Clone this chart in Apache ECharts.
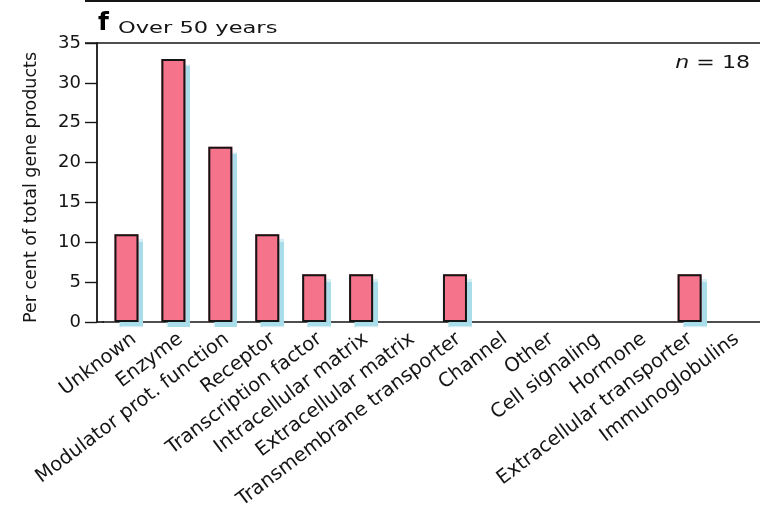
<!DOCTYPE html>
<html>
<head>
<meta charset="utf-8">
<script src="https://cdn.jsdelivr.net/npm/echarts@6/dist/echarts.min.js"></script>
<style>
  html, body { margin: 0; padding: 0; background: #ffffff; }
  #chart { width: 760px; height: 512px; }
</style>
</head>
<body>
<div id="chart"></div>
<script>
// Functional classes of gene products, share of total (%)
const categories = [
  'Unknown', 'Enzyme', 'Modulator prot. function', 'Receptor',
  'Transcription factor', 'Intracellular matrix', 'Extracellular matrix',
  'Transmembrane transporter', 'Channel', 'Other', 'Cell signaling',
  'Hormone', 'Extracellular transporter', 'Immunoglobulins'
];
const percentOfTotal = [11, 33, 22, 11, 6, 6, 0, 6, 0, 0, 0, 0, 6, 0];
const yTickValues = [0, 5, 10, 15, 20, 25, 30, 35];

const panelLetter = 'f';
const panelTitle = 'Over 50 years';
const sampleSize = 18;
const yAxisTitle = 'Per cent of total gene products';

const FONT = 'DejaVu Sans';
const INK = '#151515';
const BAR_FILL = '#f5738b';
const BAR_SHADOW = '#a9dde9';

const chart = echarts.init(document.getElementById('chart'), null, { renderer: 'canvas' });

const GRID = { left: 103, top: 43, width: 662, height: 279 };
const LABEL_SHIFT = 8;   // category names sit slightly right of their bars
const Y_OFFSET = 6;      // y axis line sits a little left of the first band
const TICK_LEN = 12;

const yMin = yTickValues[0];
const yMax = yTickValues[yTickValues.length - 1];
const yStep = yTickValues[1] - yTickValues[0];

const hiddenBars = v => v === 0;

chart.setOption({
  animation: false,
  backgroundColor: '#ffffff',
  grid: [
    { left: GRID.left, top: GRID.top, width: GRID.width, height: GRID.height },
    { left: GRID.left + LABEL_SHIFT, top: GRID.top, width: GRID.width, height: GRID.height }
  ],
  xAxis: [{
    gridIndex: 0,
    type: 'category',
    data: categories,
    boundaryGap: true,
    axisLine: { show: true, lineStyle: { color: INK, width: 1.6 } },
    axisTick: { show: false },
    axisLabel: { show: false }
  }, {
    // carries the category names only
    gridIndex: 1,
    type: 'category',
    data: categories,
    boundaryGap: true,
    axisLine: { show: false },
    axisTick: { show: false },
    axisLabel: {
      interval: 0,
      rotate: 37,
      margin: 21,
      color: INK,
      fontFamily: FONT,
      fontSize: 19.5
    }
  }],
  yAxis: [{
    gridIndex: 0,
    type: 'value',
    min: yMin,
    max: yMax,
    interval: yStep,
    offset: Y_OFFSET,
    splitLine: { show: false },
    axisLine: { show: true, lineStyle: { color: INK, width: 1.8 } },
    axisTick: { show: true, inside: false, length: TICK_LEN, lineStyle: { color: INK, width: 1.4 } },
    axisLabel: {
      margin: 16,
      color: INK,
      fontFamily: FONT,
      fontSize: 18,
      padding: [0, 0, 6, 0]
    },
    name: yAxisTitle,
    nameLocation: 'middle',
    nameGap: 57,
    nameRotate: 90,
    nameTextStyle: { color: INK, fontFamily: FONT, fontSize: 17.5, padding: [0, 10, 0, 0] }
  }, {
    gridIndex: 1,
    type: 'value',
    min: yMin,
    max: yMax,
    interval: yStep,
    show: false
  }],
  series: [{
    // filled bars with their pale drop shadow
    type: 'bar',
    xAxisIndex: 0,
    yAxisIndex: 0,
    barWidth: 24,
    data: percentOfTotal.map(v => hiddenBars(v) ? { value: v, itemStyle: { opacity: 0 } } : v),
    itemStyle: {
      color: BAR_FILL,
      borderWidth: 0,
      shadowColor: BAR_SHADOW,
      shadowBlur: 1,
      shadowOffsetX: 5,
      shadowOffsetY: 5
    },
    emphasis: { disabled: true }
  }, {
    // dark outlines drawn over the same bars
    type: 'bar',
    xAxisIndex: 0,
    yAxisIndex: 0,
    barWidth: 24,
    barGap: '-100%',
    data: percentOfTotal.map(v => hiddenBars(v) ? { value: v, itemStyle: { opacity: 0 } } : v),
    itemStyle: {
      color: 'rgba(0,0,0,0)',
      borderColor: INK,
      borderWidth: 2
    },
    emphasis: { disabled: true }
  }]
});

// Frame lines, panel heading and sample size
const yTop = chart.convertToPixel({ yAxisIndex: 0 }, yMax);
const yZero = chart.convertToPixel({ yAxisIndex: 0 }, yMin);
const axisX = GRID.left - Y_OFFSET;
const frameLeft = axisX - TICK_LEN;
const W = chart.getWidth();

chart.setOption({
  graphic: [
    // upper frame line of the panel
    { type: 'line', silent: true,
      shape: { x1: frameLeft, y1: yTop, x2: W, y2: yTop },
      style: { stroke: INK, lineWidth: 1.6 } },
    // baseline segment between the y axis and the first band
    { type: 'line', silent: true,
      shape: { x1: axisX, y1: yZero, x2: GRID.left + 1, y2: yZero },
      style: { stroke: INK, lineWidth: 1.6 } },
    // bottom edge of the panel above
    { type: 'line', silent: true,
      shape: { x1: frameLeft, y1: 1, x2: W, y2: 1 },
      style: { stroke: INK, lineWidth: 2 } },
    { type: 'text', silent: true, x: frameLeft - 4, y: 3,
      style: { text: '0', font: '18px "' + FONT + '"', fill: INK, textAlign: 'right', textVerticalAlign: 'bottom' } },
    // panel heading
    { type: 'text', silent: true, x: axisX + 1, y: 36,
      style: { text: panelLetter, font: 'bold 25px "' + FONT + '"', fill: '#000', textAlign: 'left', textVerticalAlign: 'bottom' } },
    { type: 'text', silent: true, x: axisX + 21, y: 37, scaleX: 1.41,
      style: { text: panelTitle, font: '16px "' + FONT + '"', fill: INK, textAlign: 'left', textVerticalAlign: 'bottom' } },
    // sample size
    { type: 'text', silent: true, x: 750, y: 72, scaleX: 1.3,
      style: {
        text: '{i|n} = ' + sampleSize,
        font: '17px "' + FONT + '"', fill: INK, textAlign: 'right', textVerticalAlign: 'bottom',
        rich: { i: { fontStyle: 'italic', fontFamily: FONT, fontSize: 17, fill: INK } }
      } }
  ]
});
</script>
</body>
</html>
